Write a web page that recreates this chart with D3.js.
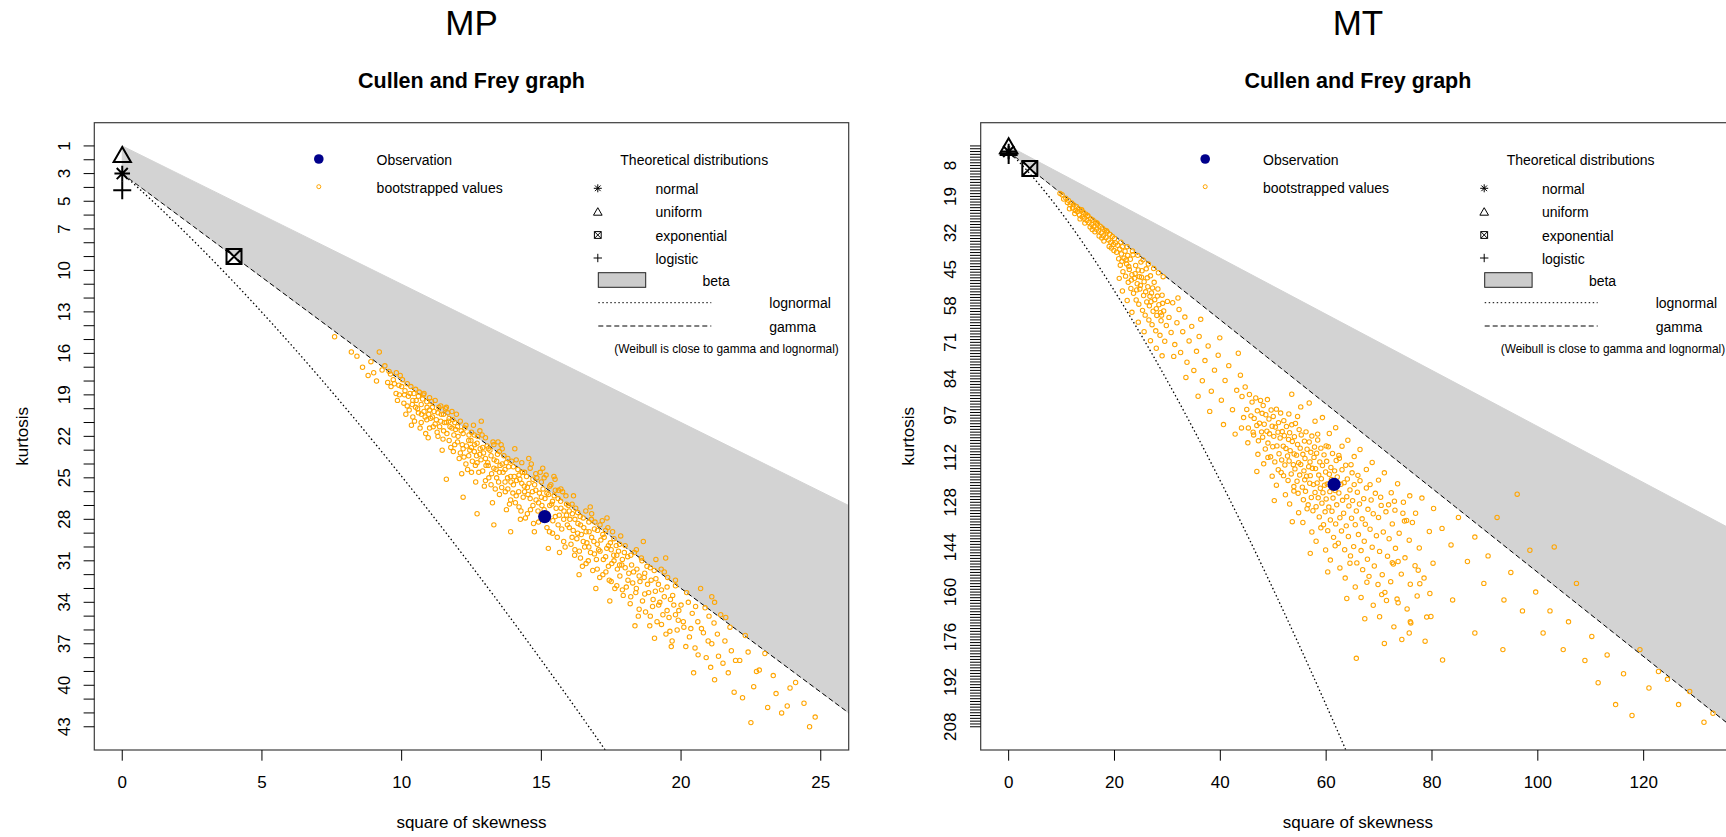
<!DOCTYPE html>
<html><head><meta charset="utf-8">
<script src="https://cdn.jsdelivr.net/npm/d3@7"></script>
<style>
html,body{margin:0;padding:0;background:#fff;overflow:hidden}
text{font-family:Arial,"Liberation Sans",sans-serif;fill:#000}
</style></head><body>
<svg id="chart" width="1726" height="837"></svg>
<script>
// ---- data ----
const panelTitles = ["MP", "MT"];
const mainTitle = "Cullen and Frey graph";
const xTitle = "square of skewness";
const yTitle = "kurtosis";

const skewLimMP = [0, 25];
const kurtLimMP = [1, 43];
const xTicksMP = [0, 5, 10, 15, 20, 25];
const yLabelsMP = [1, 3, 5, 7, 10, 13, 16, 19, 22, 25, 28, 31, 34, 37, 40, 43];

const skewLimMT = [0, 132];
const kurtLimMT = [1, 208];
const xTicksMT = [0, 20, 40, 60, 80, 100, 120];
const yLabelsMT = [8, 19, 32, 45, 58, 71, 84, 97, 112, 128, 144, 160, 176, 192, 208];

// observed (square of skewness, kurtosis)
const obsMP = [15.12, 27.8];
const obsMT = [61.5, 121.6];

// theoretical single points
const theoNames = ["normal", "uniform", "exponential", "logistic"];
const theoSkew2 = [0, 0, 4, 0];
const theoKurt = [3, 1.8, 9, 4.2];

// bootstrapped "skewness^2 kurtosis" pairs
const bootMP = `7.6 14.8,8.2 15.9,8.6 17.0,8.4 16.2,8.9 16.6,9.2 15.9,9.0 17.4,9.3 17.2,9.5 18.1,9.6 17.5,9.8 18.9,9.7 17.9,9.9 18.3,9.4 16.9,8.8 17.6,9.1 18.0,9.95 17.6,9.85 19.4,
10.0 18.4,10.1 19.0,10.2 18.2,10.2 19.8,10.3 18.9,10.4 19.4,10.4 20.6,10.5 18.6,10.5 19.9,10.6 19.1,10.6 20.3,10.7 19.7,10.7 21.0,10.8 18.9,10.8 20.2,10.9 19.5,10.9 20.8,11.0 19.2,11.0 20.1,11.0 21.4,11.1 19.9,11.1 20.6,11.2 19.4,11.2 21.1,11.3 20.3,11.3 22.0,11.4 19.8,11.4 20.9,11.5 20.4,11.5 21.6,11.6 19.9,11.6 21.0,11.7 20.7,11.7 22.3,11.8 20.2,11.8 21.4,11.9 21.0,11.9 22.6,10.35 21.2,10.95 22.1,11.45 23.0,10.15 20.4,11.65 20.3,11.85 23.1,10.75 19.3,
12.0 21.3,12.0 22.4,12.1 20.9,12.1 23.2,12.2 21.8,12.2 22.9,12.3 21.2,12.3 24.0,12.4 22.3,12.4 23.4,12.5 21.7,12.5 22.8,12.5 24.6,12.6 23.1,12.6 21.9,12.7 22.5,12.7 23.9,12.8 21.6,12.8 23.3,12.9 22.8,12.9 24.5,13.0 22.1,13.0 23.6,13.0 25.2,13.1 22.9,13.1 24.1,13.2 23.4,13.2 25.5,13.3 22.6,13.3 24.3,13.4 23.8,13.4 25.0,13.5 23.1,13.5 24.6,13.5 26.2,13.6 24.0,13.6 22.9,13.7 25.3,13.7 24.4,13.8 23.6,13.8 25.8,13.9 24.9,13.9 26.6,12.15 24.7,12.65 25.3,13.25 26.8,13.75 27.3,12.85 20.9,13.45 22.4,
14.0 24.2,14.0 25.5,14.1 23.7,14.1 26.3,14.2 24.8,14.2 27.1,14.3 25.4,14.3 23.9,14.4 26.0,14.4 24.6,14.5 25.7,14.5 27.6,14.6 24.3,14.6 26.5,14.7 25.1,14.7 27.0,14.8 25.9,14.8 24.7,14.9 26.8,14.9 28.2,15.0 25.3,15.0 26.4,15.1 27.3,15.1 25.0,15.2 26.1,15.2 28.6,15.3 27.0,15.3 25.6,15.4 26.7,15.4 29.0,15.5 25.9,15.5 27.8,15.6 26.5,15.6 28.4,15.7 27.2,15.7 25.8,15.8 28.0,15.8 29.6,15.9 26.9,15.9 27.7,14.25 28.0,14.75 28.9,15.25 30.1,15.65 30.4,14.05 22.9,14.55 23.6,15.05 24.3,15.45 24.9,
16.0 27.4,16.0 28.6,16.1 26.9,16.1 29.3,16.2 28.0,16.2 30.2,16.3 27.5,16.3 29.0,16.4 28.4,16.4 30.8,16.5 27.9,16.5 29.6,16.6 28.9,16.6 31.2,16.7 28.2,16.7 30.0,16.8 29.3,16.8 27.6,16.9 30.5,16.9 28.7,17.0 29.8,17.0 31.6,17.1 28.4,17.1 30.3,17.2 29.1,17.2 32.0,17.3 30.7,17.3 28.8,17.4 29.9,17.4 31.4,17.5 30.2,17.5 32.5,17.6 29.4,17.6 31.0,17.7 30.6,17.7 32.8,17.8 31.3,17.8 29.8,17.9 30.9,17.9 33.1,16.35 32.0,16.95 33.0,17.45 33.9,16.15 26.3,16.75 27.1,17.35 27.9,
18.0 31.5,18.0 29.9,18.1 32.4,18.2 30.6,18.2 33.6,18.3 31.8,18.4 30.2,18.4 33.0,18.5 32.1,18.5 34.5,18.6 31.0,18.7 33.4,18.7 31.9,18.8 32.7,18.9 35.0,18.9 31.5,19.0 33.8,19.1 32.3,19.1 30.9,19.2 34.2,19.3 33.1,19.3 35.6,19.4 31.8,19.5 34.6,19.5 32.9,19.6 36.1,19.7 33.5,19.8 34.9,19.8 32.4,19.9 35.3,18.35 35.7,19.05 36.6,19.65 37.2,18.65 29.6,19.45 30.8,
20.0 34.2,20.1 35.8,20.2 33.3,20.3 36.5,20.4 34.8,20.5 37.3,20.6 35.4,20.7 33.0,20.8 36.2,20.9 38.0,21.0 35.0,21.1 37.0,21.2 34.0,21.2 39.6,21.3 36.3,21.5 38.4,21.6 35.1,21.8 37.5,21.9 40.5,20.45 39.1,21.1 33.6,
22.1 38.2,22.3 36.4,22.6 40.1,22.8 38.9,23.1 41.6,23.3 39.3,23.6 42.0,23.9 40.2,24.4 41.3,24.8 42.3,22.5 42.7,
9.55 17.3,9.62 18.4,9.74 18.2,9.81 17.4,9.92 19.0,10.03 17.9,10.08 19.6,10.12 18.7,10.24 19.1,10.27 20.1,10.33 18.4,10.38 19.7,10.44 18.9,10.46 20.9,10.52 19.4,10.57 20.0,10.63 18.8,10.66 21.4,10.71 20.4,10.78 19.0,10.84 20.6,10.86 21.8,10.91 19.9,10.97 20.4,11.04 20.7,11.07 19.5,11.13 21.3,11.16 20.2,11.24 20.8,11.27 21.7,11.33 19.9,11.36 21.3,11.42 20.4,11.48 22.2,11.53 21.0,11.57 20.0,11.62 21.8,11.68 20.9,11.73 21.3,11.76 22.8,11.83 20.8,11.87 21.9,11.93 21.5,11.96 20.4,
12.02 22.0,12.06 23.6,12.13 21.6,12.17 22.6,12.23 23.5,12.26 21.4,12.32 22.7,12.36 24.4,12.41 21.9,12.44 23.0,12.48 22.3,12.53 23.8,12.57 21.2,12.61 22.6,12.64 24.1,12.68 23.4,12.72 22.0,12.76 24.6,12.81 22.9,12.84 23.7,12.88 21.9,12.93 23.2,12.96 25.6,13.02 24.1,13.06 22.7,13.08 23.9,13.12 25.0,13.16 23.0,13.22 24.7,13.27 22.4,13.31 23.7,13.35 25.8,13.38 24.4,13.43 23.3,13.47 25.3,13.52 24.1,13.56 22.6,13.58 25.7,13.63 24.6,13.66 23.4,13.71 26.0,13.74 23.9,13.79 25.0,13.83 24.2,13.86 26.9,13.91 25.3,13.94 23.8,13.98 26.1,
14.03 24.9,14.07 26.8,14.11 25.2,14.16 24.4,14.19 26.0,14.23 25.1,14.27 27.4,14.32 24.6,14.35 26.4,14.39 25.6,14.43 27.9,14.47 24.9,14.52 26.2,14.56 25.4,14.61 27.3,14.64 24.0,14.68 26.0,14.72 28.3,14.76 25.5,14.81 26.6,14.84 25.0,14.88 27.4,14.93 26.1,14.96 24.6,15.02 27.0,15.06 25.8,15.09 28.0,15.13 26.5,15.17 24.8,15.22 27.6,15.26 26.2,15.29 28.9,15.34 25.5,15.37 26.9,15.41 28.1,15.46 26.3,15.49 25.1,15.53 27.2,15.57 29.3,15.61 25.9,15.64 27.7,15.69 26.7,15.73 28.7,15.76 26.0,15.81 27.4,15.85 30.0,15.88 26.3,15.93 28.4,15.97 27.0,
16.02 28.0,16.06 29.8,16.11 27.6,16.14 28.8,16.19 30.6,16.23 27.2,16.27 29.4,16.31 28.3,16.36 30.3,16.39 27.8,16.43 29.1,16.47 31.4,16.52 28.6,16.55 30.0,16.59 27.4,16.63 29.7,16.68 31.0,16.71 28.9,16.76 30.4,16.79 28.0,16.84 31.7,16.88 29.6,16.92 28.2,16.97 30.9,17.01 28.8,17.05 30.2,17.09 32.2,17.13 29.5,17.18 28.1,17.22 30.9,17.25 29.3,17.31 31.8,17.34 30.1,17.38 28.6,17.43 32.4,17.47 29.7,17.52 31.2,17.55 28.9,17.59 30.6,17.63 33.0,17.68 29.9,17.72 31.6,17.76 30.3,17.81 32.1,17.84 29.2,17.88 31.3,17.93 33.5,17.97 30.4,
18.04 32.9,18.09 30.7,18.13 31.9,18.18 34.1,18.23 31.3,18.27 32.6,18.33 30.4,18.38 33.3,18.42 31.6,18.47 35.0,18.53 32.5,18.58 30.8,18.62 33.9,18.68 32.2,18.73 34.7,18.78 31.4,18.84 33.3,18.88 35.7,18.93 32.4,18.98 34.3,19.04 31.7,19.08 33.2,19.14 35.4,19.19 32.7,19.24 34.0,19.29 31.6,19.35 34.9,19.4 33.6,19.46 36.3,19.52 32.2,19.57 35.1,19.62 33.8,19.68 36.8,19.74 34.2,19.8 32.8,19.86 36.0,19.92 34.6,
20.08 35.4,20.17 37.2,20.26 34.0,20.35 35.9,20.52 34.3,20.61 37.8,20.73 35.9,20.86 34.4,20.97 36.8,21.06 38.7,21.18 35.5,21.34 37.9,21.42 34.9,21.57 36.8,21.69 39.1,21.75 35.8,21.95 38.2,
22.2 40.9,22.4 37.6,22.7 39.0,23.0 37.7,23.4 40.6,23.8 41.5,24.1 39.8,24.6 43.0,
12.7 27.6,13.3 28.4,12.2 26.4,13.9 28.9,11.6 25.1`;

const bootMT = `9.7 17.9,10.1 18.4,10.4 19.9,10.8 19.6,11.1 21.2,11.3 20.4,11.6 22.0,11.9 21.3,12.1 23.1,12.3 22.0,12.6 24.0,12.8 22.6,13.0 24.4,13.2 23.4,13.4 25.6,13.7 24.1,13.9 26.3,14.1 24.6,14.3 26.8,14.6 25.3,14.8 27.6,15.0 26.0,15.2 28.3,15.5 26.9,15.7 29.0,15.9 27.4,16.1 29.8,16.4 28.2,16.6 30.7,16.8 28.9,17.0 31.3,17.3 29.6,17.5 32.0,17.7 30.2,17.9 33.0,18.2 31.0,18.4 33.6,18.6 31.7,18.9 34.5,19.1 32.5,19.3 35.3,19.6 33.3,19.8 36.1,20.0 34.0,
12.5 25.1,13.5 27.0,14.4 28.5,15.4 29.9,16.3 31.6,17.1 33.1,18.0 34.9,19.0 36.8,19.9 38.3,11.5 23.4,14.9 25.8,16.7 28.5,18.5 31.2,13.8 23.7,17.6 33.8,15.8 30.8,19.4 37.4,
20.2 35.6,20.4 38.9,20.6 36.4,20.8 41.2,21.0 37.8,21.1 43.5,21.3 39.5,21.5 36.9,21.6 45.8,21.8 41.0,22.0 38.5,22.1 47.4,22.3 43.1,22.5 40.0,22.6 49.6,22.8 45.0,23.0 41.4,23.1 51.8,23.3 46.9,23.5 39.8,23.6 53.5,23.8 48.2,24.0 43.6,24.1 55.9,24.3 50.1,24.5 45.2,24.6 57.4,24.8 52.0,25.0 42.4,25.1 47.8,25.3 59.6,25.5 54.3,25.6 49.4,25.8 61.3,26.0 44.8,26.1 56.6,26.3 51.2,26.5 63.0,26.6 58.0,26.8 47.3,27.0 53.4,27.1 64.7,27.3 59.9,27.5 49.6,27.6 55.8,27.8 66.9,28.0 61.4,28.2 52.0,28.4 57.6,28.6 68.5,28.8 63.3,29.0 54.2,29.3 59.8,29.5 70.6,29.8 65.0,30.0 56.4,
21.2 35.3,22.4 36.9,23.4 38.4,24.4 40.0,25.4 41.6,26.4 43.1,27.4 44.7,28.3 46.2,29.2 47.6,22.7 44.0,23.9 46.5,24.9 50.7,25.9 53.0,26.9 56.5,27.9 59.0,28.9 61.3,23.2 48.8,24.2 52.3,25.2 45.5,26.2 48.0,27.2 51.6,28.1 54.5,29.1 57.1,21.4 42.1,22.2 41.6,24.7 47.6,26.7 54.6,28.7 60.4,
20.9 48.2,21.5 52.7,22.4 56.1,23.3 60.3,24.5 63.8,25.6 67.2,26.8 70.4,27.9 73.1,29.0 75.8,
30.3 62.1,30.7 67.5,31.0 56.9,31.4 71.8,31.8 64.0,32.2 59.3,32.5 74.6,32.9 67.2,33.3 62.0,33.7 78.1,34.1 70.5,34.6 65.3,35.0 81.0,35.5 74.2,36.0 68.9,36.6 84.7,37.1 77.5,37.7 72.3,38.3 88.4,38.9 80.9,39.6 75.6,40.2 91.6,40.9 84.6,41.6 79.3,42.3 95.0,43.1 88.1,43.8 82.7,31.2 76.0,33.5 83.5,35.8 90.2,38.0 95.6,40.6 100.3,42.8 103.7,32.0 55.2,36.3 62.8,39.9 69.4,43.4 74.9,
44.1 90.3,44.4 97.8,44.7 86.9,45.0 94.9,45.3 101.5,45.5 89.6,45.8 97.2,46.0 92.3,46.2 103.0,46.4 98.1,46.7 90.8,46.9 100.6,47.0 95.4,47.2 106.1,47.4 99.8,47.6 91.7,47.8 102.9,47.9 96.3,
48.0 104.8,48.1 93.5,48.3 100.2,48.5 109.0,48.6 96.8,48.8 102.7,48.9 91.4,49.0 106.9,49.2 98.3,49.3 103.6,49.5 111.8,49.6 95.1,49.8 100.9,49.9 108.2,
50.0 97.4,50.1 104.5,50.3 113.6,50.4 101.2,50.6 94.8,50.7 107.9,50.9 103.0,50.95 116.4,51.0 99.6,51.1 110.7,51.3 105.1,51.4 96.2,51.6 112.9,51.7 102.8,51.9 108.0,51.95 118.5,
52.0 98.9,52.1 104.3,52.2 114.7,52.4 108.8,52.5 101.0,52.7 111.5,52.8 120.2,52.9 105.6,52.95 96.5,53.0 113.3,53.1 103.2,53.2 109.6,53.4 117.9,53.5 100.4,53.6 106.3,53.8 114.6,53.9 122.4,53.95 110.8,
54.0 104.6,54.1 116.1,54.2 99.9,54.4 111.2,54.5 120.5,54.6 107.4,54.7 124.8,54.8 113.9,54.9 102.1,55.0 118.3,55.1 108.7,55.2 114.5,55.3 104.0,55.5 122.6,55.6 110.9,55.7 127.1,55.8 116.8,55.9 106.2,55.95 120.0,
56.0 112.4,56.1 124.1,56.2 102.9,56.3 118.7,56.4 109.1,56.6 128.9,56.7 115.3,56.8 106.5,56.9 121.2,56.95 113.6,57.0 118.5,57.1 110.2,57.2 126.3,57.3 104.4,57.4 115.9,57.5 131.0,57.6 121.7,57.7 112.0,57.8 108.3,57.9 124.5,
58.0 116.0,58.1 129.6,58.2 110.5,58.3 121.1,58.4 105.8,58.5 126.4,58.6 118.3,58.7 133.2,58.8 113.6,58.9 123.0,59.0 108.7,59.1 119.6,59.2 128.3,59.3 114.9,59.4 124.6,59.5 136.0,59.6 111.1,59.7 121.9,59.8 131.4,59.9 117.2,
60.0 126.8,60.1 113.4,60.2 121.5,60.3 138.1,60.4 108.2,60.5 129.7,60.6 118.0,60.7 124.2,60.8 134.3,60.9 115.6,61.0 119.9,61.1 131.2,61.2 110.6,61.3 126.5,61.4 140.5,61.6 116.8,61.7 123.8,61.8 135.7,61.9 113.1,
62.0 128.9,62.1 119.0,62.3 142.6,62.4 124.7,62.5 112.3,62.6 133.5,62.8 121.6,62.9 138.2,63.0 116.4,63.1 127.3,63.3 131.9,63.4 121.0,63.5 144.9,63.7 114.8,63.8 136.4,63.9 126.0,
64.0 119.7,64.2 140.2,64.3 129.3,64.5 123.6,64.6 147.1,64.8 133.7,64.9 117.5,65.0 127.4,65.2 143.8,65.3 121.7,65.5 136.0,65.7 131.1,65.8 149.6,65.9 124.4,
66.1 139.5,66.3 128.6,66.4 120.3,66.6 145.2,66.8 133.9,66.9 152.0,67.1 126.7,67.2 141.9,67.4 135.8,67.6 122.9,67.8 148.3,67.9 130.5,
68.1 154.4,68.3 137.6,68.5 127.2,68.7 144.0,68.9 132.1,69.1 150.7,69.3 124.8,69.5 139.9,69.8 157.3,69.9 133.4,70.1 145.5,70.4 129.1,70.6 153.8,70.8 138.6,
71.1 160.1,71.3 131.4,71.6 147.2,71.9 141.0,72.2 156.3,72.5 135.7,72.7 150.0,72.9 127.6,73.1 144.4,73.4 162.5,73.8 139.0,74.2 153.6,74.5 131.9,74.9 147.8,
75.3 166.0,75.7 141.5,75.9 157.2,76.3 135.2,76.8 150.6,77.2 161.4,77.6 144.3,78.1 126.5,78.5 155.0,79.0 168.9,79.5 138.4,80.2 149.7,
53.5 89.5,55.2 94.0,56.8 92.6,57.9 99.1,59.3 97.8,60.6 103.5,61.8 101.4,63.0 108.0,64.1 105.9,65.3 111.7,66.4 109.2,67.6 116.3,68.7 113.8,69.9 120.1,71.0 117.5,72.3 124.6,73.5 121.4,74.6 128.0,75.8 125.7,76.9 131.9,58.4 103.7,62.4 111.3,66.0 118.4,70.3 126.2,73.0 130.8,54.6 97.4,60.0 107.9,64.7 114.6,68.3 121.7,71.8 128.9,75.2 134.5,
44.0 101.5,45.2 106.8,46.3 104.0,47.1 110.9,48.2 114.3,49.0 112.0,49.8 118.7,50.6 121.9,51.5 117.4,52.3 125.3,53.1 128.6,53.9 124.0,54.8 131.7,55.6 135.2,56.4 130.3,57.3 138.6,58.1 141.9,59.0 137.1,59.9 145.0,60.8 148.6,61.7 143.5,62.6 151.4,63.6 155.0,64.5 149.7,65.5 158.2,66.6 161.9,67.7 156.5,68.9 164.7,70.1 168.8,71.4 163.0,72.8 172.4,74.3 176.9,75.9 170.6,46.9 117.0,50.2 127.4,53.6 134.9,57.0 146.2,60.3 152.8,63.9 162.3,67.3 169.5,71.0 178.3,
72.5 149.5,73.6 163.8,74.8 134.7,76.0 171.0,77.4 152.2,78.7 177.5,79.6 160.5,82.0 184.2,65.7 183.6,
80.3 130.2,81.9 137.3,83.6 143.2,85.0 133.4,86.7 149.1,88.1 140.4,89.8 156.9,90.6 147.1,92.3 133.4,93.6 162.8,94.9 153.0,96.1 125.1,97.1 166.7,98.5 145.1,99.6 160.0,101.0 174.6,102.3 166.7,103.1 143.9,104.8 180.5,105.8 170.6,107.3 156.9,108.9 184.4,110.2 175.8,111.4 192.3,113.1 182.4,114.7 200.1,116.2 189.1,117.8 204.0,119.3 180.5,121.0 194.2,122.8 188.3,124.5 191.1,126.6 200.1,128.7 195.4,131.4 206.4,133.1 203.2,
77.7 157.0,83.9 162.8,73.6 149.1,79.8 168.7,88.1 174.6,75.7 174.6,70.5 160.9,93.4 180.5`;

const parsePairs = s => s.split(",").map(t => t.trim()).filter(t => t).map(t => t.split(/\s+/).map(Number));

// ---- layout ----
const svg = d3.select("#chart");
const boxTop = 122.7, boxBottom = 750, boxW = 754.4;

// legend offsets, measured from the left edge of each plot box
const legendPos = { dot: 224.5, obsText: 282.3, theoTitle: 526, sym: 503.5, name: 561.2, rect0: 504, rect1: 551.4, beta: 608.2, line1: 617, lineText: 675, weib: 520 };

const panels = [
  { title: panelTitles[0], left: 94.3, xlim: skewLimMP, ylim: kurtLimMP, xticks: xTicksMP, ylabels: yLabelsMP,
    obs: obsMP, boot: parsePairs(bootMP) },
  { title: panelTitles[1], left: 980.7, xlim: skewLimMT, ylim: kurtLimMT, xticks: xTicksMT, ylabels: yLabelsMT,
    obs: obsMT, boot: parsePairs(bootMT) }
];

// R-style plot symbols drawn as paths centred at 0,0
function symAsterisk(r) {
  const d = r * 0.7071;
  return `M${-r},0L${r},0M0,${-r}L0,${r}M${-d},${-d}L${d},${d}M${-d},${d}L${d},${-d}`;
}
function symPlus(r) { return `M${-r},0L${r},0M0,${-r}L0,${r}`; }
function symTriangle(r) {
  const h = r * Math.cos(Math.PI / 6);
  return `M0,${-r}L${h},${r / 2}L${-h},${r / 2}Z`;
}
function symBoxX(r) { return `M${-r},${-r}H${r}V${r}H${-r}ZM${-r},${-r}L${r},${r}M${-r},${r}L${r},${-r}`; }
const symbolFor = { normal: symAsterisk, uniform: symTriangle, exponential: symBoxX, logistic: symPlus };

panels.forEach((p, i) => {
  const g = svg.append("g");
  const right = p.left + boxW;
  const xr = p.xlim[1] - p.xlim[0], yr = p.ylim[1] - p.ylim[0];
  const x = d3.scaleLinear().domain([p.xlim[0] - 0.04 * xr, p.xlim[1] + 0.04 * xr]).range([p.left, right]);
  const y = d3.scaleLinear().domain([p.ylim[0] - 0.04 * yr, p.ylim[1] + 0.04 * yr]).range([boxTop, boxBottom]);
  const cx = p.left + boxW / 2;

  // titles
  g.append("text").attr("x", cx).attr("y", 35).attr("text-anchor", "middle")
    .style("font-size", "35px").text(p.title);
  g.append("text").attr("x", cx).attr("y", 88).attr("text-anchor", "middle")
    .style("font-size", "21.5px").style("font-weight", "bold").text(mainTitle);

  const clipId = "clip" + i;
  svg.append("clipPath").attr("id", clipId).append("rect")
    .attr("x", p.left).attr("y", boxTop).attr("width", boxW).attr("height", boxBottom - boxTop);
  const plot = g.append("g").attr("clip-path", `url(#${clipId})`);

  // beta region: between kurtosis = 1 + b1 and the gamma line kurtosis = 3 + 1.5 b1
  const far = p.xlim[1] * 3;
  const betaPoly = [[0, 1], [far, 1 + far], [far, 3 + 1.5 * far], [0, 3]];
  const lineGen = d3.line().x(d => x(d[0])).y(d => y(d[1]));
  plot.append("path").attr("d", lineGen(betaPoly) + "Z")
    .attr("fill", "#d3d3d3").attr("stroke", "#d3d3d3").attr("stroke-width", 1);

  // gamma line (shape k: b1 = 4/k, b2 = 3 + 6/k)
  const shapes = d3.range(-6, 6.01, 0.05).map(v => Math.exp(v));
  const gam = shapes.map(k => [4 / k, 3 + 6 / k]).sort((a, b) => a[0] - b[0]);
  plot.append("path").attr("d", lineGen([[0, 3], ...gam.filter(d => d[0] < far)]))
    .attr("fill", "none").attr("stroke", "#000").attr("stroke-width", 1).attr("stroke-dasharray", "5,3");

  // lognormal line (w = exp(sigma^2))
  const lnPts = d3.range(0, 1.6, 0.0005).map(v => {
    const w = Math.exp(v);
    return [(w + 2) * (w + 2) * (w - 1), w ** 4 + 2 * w ** 3 + 3 * w * w - 3];
  });
  plot.append("path").attr("d", lineGen(lnPts.filter(d => d[1] < p.ylim[1] * 1.2)))
    .attr("fill", "none").attr("stroke", "#000").attr("stroke-width", 1.3).attr("stroke-dasharray", "1.5,2.5");

  // bootstrapped values
  plot.append("g").selectAll("circle").data(p.boot).join("circle")
    .attr("cx", d => x(d[0])).attr("cy", d => y(d[1])).attr("r", 2.2)
    .attr("fill", "none").attr("stroke", "#FFA500").attr("stroke-width", 1.05);

  // theoretical points
  const symSize = { normal: 7.8, uniform: 10, exponential: 7.5, logistic: 9 };
  theoNames.forEach((n, j) => {
    plot.append("path").attr("d", symbolFor[n](symSize[n]))
      .attr("transform", `translate(${x(theoSkew2[j])},${y(theoKurt[j])})`)
      .attr("fill", "none").attr("stroke", "#000").attr("stroke-width", 2);
  });

  // observation
  plot.append("circle").attr("cx", x(p.obs[0])).attr("cy", y(p.obs[1])).attr("r", 6.6).attr("fill", "#00008B");

  // box
  g.append("rect").attr("x", p.left).attr("y", boxTop).attr("width", boxW).attr("height", boxBottom - boxTop)
    .attr("fill", "none").attr("stroke", "#3c3c3c").attr("stroke-width", 1.2);

  // x axis
  const xa = g.append("g");
  xa.selectAll("line").data(p.xticks).join("line")
    .attr("x1", d => x(d)).attr("x2", d => x(d)).attr("y1", boxBottom).attr("y2", boxBottom + 10.7)
    .attr("stroke", "#000");
  xa.selectAll("text").data(p.xticks).join("text")
    .attr("x", d => x(d)).attr("y", 788).attr("text-anchor", "middle").style("font-size", "17px").text(d => d);
  g.append("text").attr("x", cx).attr("y", 828).attr("text-anchor", "middle").style("font-size", "17px").text(xTitle);

  // y axis: a tick at every integer kurtosis
  const ya = g.append("g");
  ya.selectAll("line").data(d3.range(p.ylim[0], p.ylim[1] + 1)).join("line")
    .attr("x1", p.left - 10.7).attr("x2", p.left).attr("y1", d => y(d)).attr("y2", d => y(d))
    .attr("stroke", "#000").attr("stroke-width", 1);
  ya.selectAll("text").data(p.ylabels).join("text")
    .attr("transform", d => `translate(${p.left - 24.5},${y(d)}) rotate(-90)`)
    .attr("text-anchor", "middle").style("font-size", "17px").text(d => d);
  g.append("text").attr("transform", `translate(${p.left - 66.5},${(boxTop + boxBottom) / 2}) rotate(-90)`)
    .attr("text-anchor", "middle").style("font-size", "17px").text(yTitle);

  // legend
  const L = p.left, lg = legendPos;
  g.append("circle").attr("cx", L + lg.dot).attr("cy", 159).attr("r", 4.8).attr("fill", "#00008B");
  g.append("text").attr("x", L + lg.obsText).attr("y", 164.5).style("font-size", "14px").text("Observation");
  g.append("circle").attr("cx", L + lg.dot).attr("cy", 186.7).attr("r", 2).attr("fill", "none").attr("stroke", "#FFA500");
  g.append("text").attr("x", L + lg.obsText).attr("y", 193).style("font-size", "14px").text("bootstrapped values");
  g.append("text").attr("x", L + lg.theoTitle).attr("y", 164.5).style("font-size", "14px").text("Theoretical distributions");
  const rowY = [188.3, 211.7, 235, 258];
  const lgSize = { normal: 4, uniform: 5, exponential: 3.4, logistic: 4.2 };
  theoNames.forEach((n, j) => {
    g.append("path").attr("d", symbolFor[n](lgSize[n]))
      .attr("transform", `translate(${L + lg.sym},${rowY[j] + (n === "uniform" ? 1 : 0)})`)
      .attr("fill", "none").attr("stroke", "#000").attr("stroke-width", 1);
    g.append("text").attr("x", L + lg.name).attr("y", rowY[j] + 5.5).style("font-size", "14px").text(n);
  });
  g.append("rect").attr("x", L + lg.rect0).attr("y", 272.7).attr("width", lg.rect1 - lg.rect0).attr("height", 14.6)
    .attr("fill", "#cccccc").attr("stroke", "#222").attr("stroke-width", 1);
  g.append("text").attr("x", L + lg.beta).attr("y", 285.5).style("font-size", "14px").text("beta");
  g.append("line").attr("x1", L + lg.rect0).attr("x2", L + lg.line1).attr("y1", 302.7).attr("y2", 302.7)
    .attr("stroke", "#000").attr("stroke-dasharray", "1.5,2.5");
  g.append("text").attr("x", L + lg.lineText).attr("y", 308.3).style("font-size", "14px").text("lognormal");
  g.append("line").attr("x1", L + lg.rect0).attr("x2", L + lg.line1).attr("y1", 326).attr("y2", 326)
    .attr("stroke", "#000").attr("stroke-dasharray", "5,3");
  g.append("text").attr("x", L + lg.lineText).attr("y", 332.3).style("font-size", "14px").text("gamma");
  g.append("text").attr("x", L + lg.weib).attr("y", 352.5).style("font-size", "11.9px")
    .text("(Weibull is close to gamma and lognormal)");
});
</script></body></html>
